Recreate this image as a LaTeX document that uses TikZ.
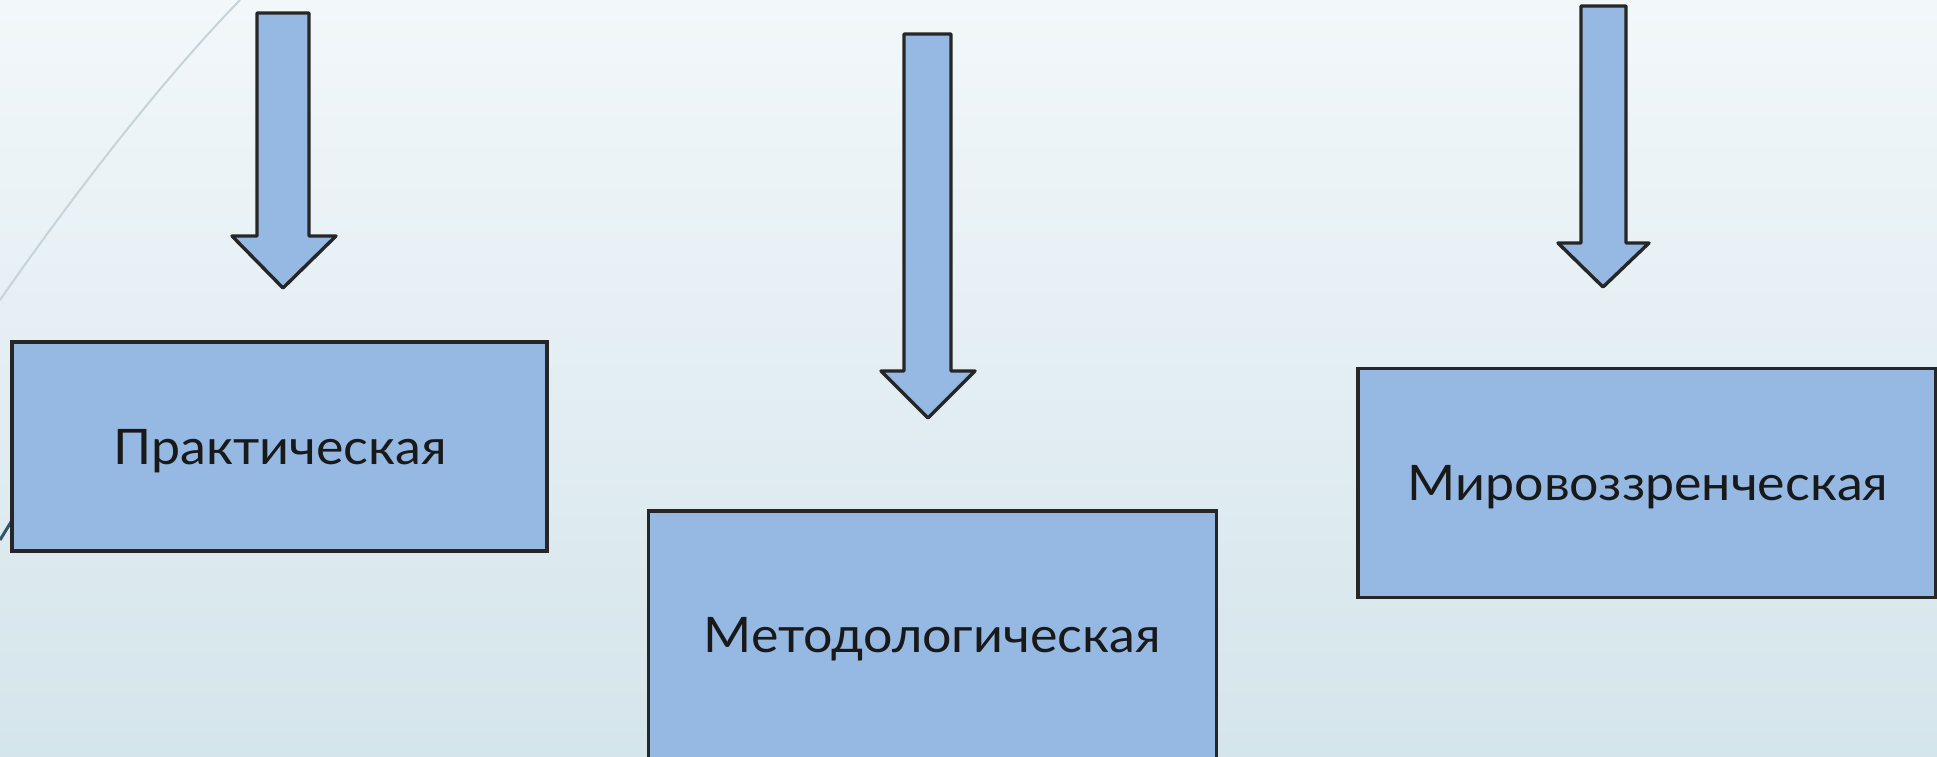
\documentclass[tikz,border=0pt]{standalone}
\usepackage{fontspec}
\setmainfont{Lato}[FakeStretch=1.06]
\definecolor{bgtop}{RGB}{242,247,250}
\definecolor{bgbot}{RGB}{212,229,235}
\definecolor{boxfill}{RGB}{150,185,227}
\definecolor{edge}{RGB}{38,38,38}
\definecolor{arcline}{RGB}{198,212,218}
\definecolor{slate}{RGB}{50,85,105}
\tikzset{
  funcbox/.style={draw=edge, fill=boxfill, line width=3.4pt, rectangle, inner sep=0pt},
  functext/.style={font=\fontsize{49}{58}\selectfont, text=black!90, inner sep=0pt, anchor=base},
  downarrow/.style={draw=edge, fill=boxfill, line width=3.4pt, line join=round}
}
\begin{document}
\begin{tikzpicture}[x=1pt,y=-1pt]
\useasboundingbox (0,0) rectangle (1937,756);
\clip (0,0) rectangle (1937,756);
\shade[top color=bgtop, bottom color=bgbot] (0,0) rectangle (1937,756);
% decorative lines
\draw[arcline, line width=2pt] (240,0) .. controls (170,72) and (85,178) .. (0,300);
\draw[slate, line width=3pt] (0,540) -- (14,517);
% boxes
\node[funcbox, minimum width=535pt, minimum height=209pt] (prak) at (279.5,446.5) {};
\node[functext] (praktext) at (280,464) {Практическая};
\node[funcbox, minimum width=568pt, minimum height=300pt] (met) at (932.5,661) {};
\node[functext] (mettext) at (932,652) {Методологическая};
\node[funcbox, minimum width=578pt, minimum height=229pt] (mir) at (1647,483) {};
\node[functext] (mirtext) at (1648,500) {Мировоззренческая};
% arrows
\draw[downarrow] (257,13) -- (309,13) -- (309,236) -- (336,236) -- (283,288) -- (232,236) -- (257,236) -- cycle;
\draw[downarrow] (904,34) -- (951,34) -- (951,371) -- (975,371) -- (928,418) -- (881,371) -- (904,371) -- cycle;
\draw[downarrow] (1581,6) -- (1626,6) -- (1626,243) -- (1649,243) -- (1603,287) -- (1558,243) -- (1581,243) -- cycle;
\end{tikzpicture}
\end{document}
